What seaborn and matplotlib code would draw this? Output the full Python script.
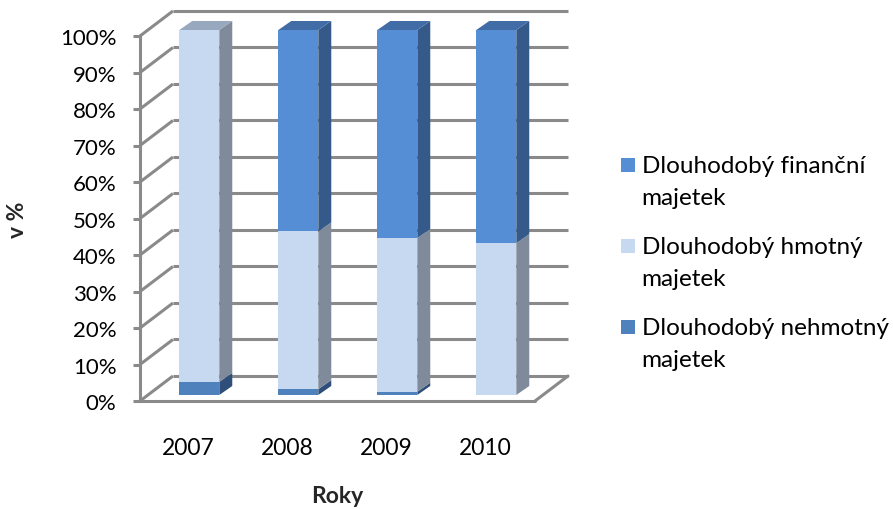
import matplotlib
matplotlib.use("Agg")
import matplotlib.pyplot as plt
import matplotlib.patches as mpatches
import seaborn as sns
import numpy as np

# Share of long-term assets by type, in percent
years = ["2007", "2008", "2009", "2010"]
nehmotny = [3.6, 1.6, 0.9, 0.0]      # Dlouhodobý nehmotný majetek
hmotny = [96.4, 43.2, 42.1, 41.6]    # Dlouhodobý hmotný majetek
financni = [0.0, 55.2, 57.0, 58.4]   # Dlouhodobý finanční majetek
series_labels = ["Dlouhodobý finanční\nmajetek",
                 "Dlouhodobý hmotný\nmajetek",
                 "Dlouhodobý nehmotný\nmajetek"]
ytick_values = list(range(0, 101, 10))

# colours: front face, side face, top face
COL_FIN = ("#558ED5", "#355A89", "#416CA5")
COL_HMO = ("#C6D9F1", "#7F8A9B", "#97A8BF")
COL_NEH = ("#4F81BD", "#2F4E7A", "#3D6596")
GRID = "#8A8A8A"

sns.set_theme(style="white")
plt.rcParams["font.family"] = ["Lato", "DejaVu Sans"]

W, H, DPI = 893, 510, 100
fig = plt.figure(figsize=(W / DPI, H / DPI), dpi=DPI)
ax = fig.add_axes([0, 0, 1, 1])

# pseudo-3D layout (data units: category index on x, percent on y)
BAR_W = 0.404
BAR_DX, BAR_DY = 0.131, 2.47          # depth of each column
FX, FY = -0.599, -1.644               # front-left corner of the walls
WDX, WDY = 0.333, 6.85                # wall depth offset
RX = 3.391                            # front-right corner of the floor

# back wall and left wall grid
for v in ytick_values:
    ax.plot([FX + WDX, RX + WDX], [v + FY + WDY] * 2, color=GRID, lw=2.2,
            solid_capstyle="butt", zorder=1)
    ax.plot([FX, FX + WDX], [v + FY, v + FY + WDY], color=GRID, lw=2.2,
            solid_capstyle="butt", zorder=1)
# floor edges
ax.plot([FX, RX], [FY, FY], color=GRID, lw=2.2, zorder=1)
ax.plot([RX, RX + WDX], [FY, FY + WDY], color=GRID, lw=2.2, zorder=1)

# front faces of the stacked columns
neh = np.array(nehmotny)
hmo = np.array(hmotny)
fin = np.array(financni)
tops = [neh + hmo + fin, neh + hmo, neh]
for vals, col in zip(tops, [COL_FIN[0], COL_HMO[0], COL_NEH[0]]):
    sns.barplot(x=years, y=vals, color=col, width=BAR_W, errorbar=None,
                linewidth=0, saturation=1, ax=ax, zorder=3)

# side and top faces
segments = [(neh, COL_NEH), (hmo, COL_HMO), (fin, COL_FIN)]
for i in range(len(years)):
    base = 0.0
    top_col = None
    xr = i + BAR_W / 2
    xl = i - BAR_W / 2
    for vals, cols in segments:
        v = vals[i]
        if v > 0:
            ax.fill([xr, xr + BAR_DX, xr + BAR_DX, xr],
                    [base, base + BAR_DY, base + v + BAR_DY, base + v],
                    color=cols[1], lw=0, zorder=3)
            top_col = cols[2]
        base += v
    ax.fill([xl, xl + BAR_DX, xr + BAR_DX, xr],
            [base, base + BAR_DY, base + BAR_DY, base],
            color=top_col, lw=0, zorder=3)

# axes span the whole canvas; limits map data to the canvas pixels
ax.set_xlim(-199.3 / 99, (W - 199.3) / 99)
ax.set_ylim((396 - H) / 3.65, 396 / 3.65)

# value axis on the front-left edge
ax.spines["left"].set_position(("data", FX))
ax.spines["left"].set_bounds(FY, 100 + FY)
ax.spines["left"].set_color(GRID)
ax.spines["left"].set_linewidth(2.2)
ax.spines["left"].set_zorder(1)
for s in ["top", "right", "bottom"]:
    ax.spines[s].set_visible(False)
ax.spines["bottom"].set_position(("data", FY))

ax.set_yticks([v + FY for v in ytick_values])
ax.set_yticklabels([f"{v}%" for v in ytick_values])
ax.tick_params(axis="y", direction="out", length=5, width=2.2, color=GRID,
               labelsize=16, pad=12, labelcolor="black", left=True)
ax.set_xticks([i - 0.11 for i in range(len(years))])
ax.set_xticklabels(years)
ax.tick_params(axis="x", length=0, labelsize=16.5, pad=26, labelcolor="black")

ax.set_ylabel("v %", fontsize=16.5, fontweight="bold", va="center")
ax.yaxis.set_label_coords(18 / W, 1 - 220 / H)
ax.set_xlabel("Roky", fontsize=16.5, fontweight="bold", va="center")
ax.xaxis.set_label_coords(337 / W, 1 - 497 / H)

# legend on the right: square key plus two text lines per entry
legend_cols = [COL_FIN[0], COL_HMO[0], COL_NEH[0]]
for k, (lab, col) in enumerate(zip(series_labels, legend_cols)):
    cy = 166.3 + 80.8 * k
    fig.patches.append(mpatches.Rectangle(
        (621 / W, 1 - (cy + 7) / H), 14 / W, 14 / H,
        transform=fig.transFigure, facecolor=col, edgecolor="none"))
    for j, line in enumerate(lab.split("\n")):
        baseline = cy + 7 + 31.7 * j
        fig.text(641.5 / W, 1 - baseline / H, line, fontsize=17.5,
                 va="baseline", ha="left", color="black")

fig.savefig("out.png", dpi=DPI)
